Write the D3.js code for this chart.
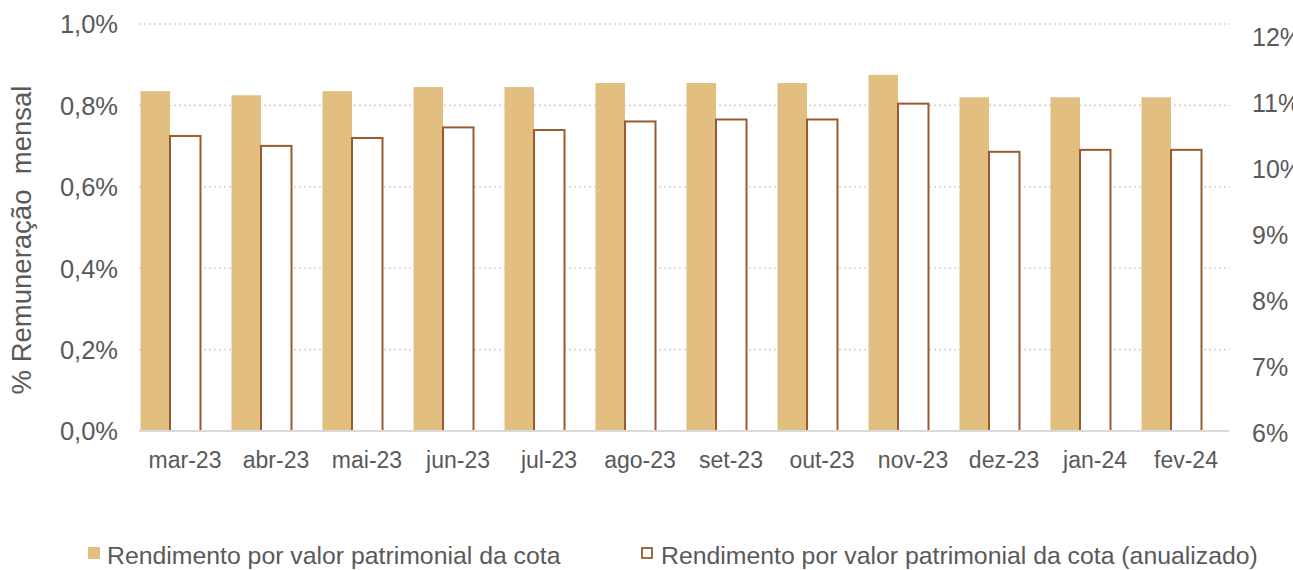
<!DOCTYPE html>
<html>
<head>
<meta charset="utf-8">
<script src="https://cdn.jsdelivr.net/npm/d3@7"></script>
<style>
  body { margin: 0; background: #fff; }
  text { font-family: "Liberation Sans", Arial, sans-serif; fill: #595959; }
</style>
</head>
<body>
<div id="chart"></div>
<script>
// data
var months = ["mar-23", "abr-23", "mai-23", "jun-23", "jul-23", "ago-23", "set-23", "out-23", "nov-23", "dez-23", "jan-24", "fev-24"];
var mensal = [0.835, 0.825, 0.835, 0.845, 0.845, 0.855, 0.855, 0.855, 0.875, 0.82, 0.82, 0.82];
var anualizado = [10.47, 10.32, 10.44, 10.60, 10.56, 10.69, 10.72, 10.72, 10.96, 10.23, 10.26, 10.26];
var leftTicks = [0, 0.2, 0.4, 0.6, 0.8, 1.0];
var rightTicks = [6, 7, 8, 9, 10, 11, 12];
var legendLabels = ["Rendimento por valor patrimonial da cota", "Rendimento por valor patrimonial da cota (anualizado)"];

var W = 1293, H = 570;
var fill = "#E2BE80", stroke = "#9A5A2E";

var svg = d3.select("#chart").append("svg")
    .attr("width", W)
    .attr("height", H);

var x = d3.scaleBand().domain(months).range([139.5, 1231.5]).padding(0),
    x1 = d3.scaleBand().domain(["m", "a"]).range([0, 61]),
    y = d3.scaleLinear().domain([0, 1.0]).range([431, 24]),
    y2 = d3.scaleLinear().domain([6, 12]).range([431, 35]);

// gridlines
svg.append("g").selectAll("line")
    .data(leftTicks.slice(1))
    .enter().append("line")
    .attr("x1", 139).attr("x2", 1230)
    .attr("y1", function(d) { return y(d); })
    .attr("y2", function(d) { return y(d); })
    .attr("stroke", "#D4D4D4")
    .attr("stroke-width", 1.6)
    .attr("stroke-dasharray", "2,3");

// filled bars (left axis)
svg.append("g").selectAll("rect")
    .data(mensal)
    .enter().append("rect")
    .attr("x", function(d, i) { return x(months[i]) + x1("m") + 1; })
    .attr("width", x1.bandwidth() - 1)
    .attr("y", function(d) { return y(d); })
    .attr("height", function(d) { return y(0) - y(d); })
    .attr("fill", fill);

// outlined bars (right axis)
svg.append("g").selectAll("rect")
    .data(anualizado)
    .enter().append("rect")
    .attr("x", function(d, i) { return x(months[i]) + x1("a"); })
    .attr("width", x1.bandwidth())
    .attr("y", function(d) { return y2(d); })
    .attr("height", function(d) { return y2(6) - y2(d); })
    .attr("fill", "#fff")
    .attr("stroke", stroke)
    .attr("stroke-width", 2);

// baseline
svg.append("line")
    .attr("x1", 139).attr("x2", 1229)
    .attr("y1", 431).attr("y2", 431)
    .attr("stroke", "#D9D9D9")
    .attr("stroke-width", 2);

// left axis
var fmt = d3.format(".1f");
var yAxis = svg.append("g")
    .attr("transform", "translate(118,0)")
    .call(d3.axisLeft(y).tickValues(leftTicks).tickSize(0).tickPadding(0)
        .tickFormat(function(d) { return fmt(d).replace(".", ",") + "%"; }));
yAxis.select(".domain").remove();
yAxis.selectAll("text").attr("font-size", 25.5).attr("dy", "0.35em")
    .style("font-family", "Liberation Sans, Arial, sans-serif").attr("fill", "#595959");

// right axis (cut off at the right edge, as in the reference)
var y2Axis = svg.append("g")
    .attr("transform", "translate(1252,0)")
    .call(d3.axisRight(y2).tickValues(rightTicks).tickSize(0).tickPadding(0)
        .tickFormat(function(d) { return d + "%"; }));
y2Axis.select(".domain").remove();
y2Axis.selectAll("text").attr("font-size", 25).attr("dy", "0.42em")
    .style("font-family", "Liberation Sans, Arial, sans-serif").attr("fill", "#595959");

// x axis
var xAxis = svg.append("g")
    .attr("transform", "translate(0,431)")
    .call(d3.axisBottom(x).tickSize(0).tickPadding(0));
xAxis.select(".domain").remove();
xAxis.selectAll("text").attr("font-size", 23).attr("y", 0).attr("dy", 37)
    .style("font-family", "Liberation Sans, Arial, sans-serif").attr("fill", "#595959");

// y axis title
svg.append("text")
    .attr("transform", "translate(31,240) rotate(-90)")
    .attr("text-anchor", "middle")
    .attr("font-size", 27.5)
    .attr("xml:space", "preserve")
    .text("% Remuneração  mensal");

// legend
var legend = svg.append("g");
legend.append("rect")
    .attr("x", 88).attr("y", 547).attr("width", 12).attr("height", 12)
    .attr("fill", fill);
legend.append("text")
    .attr("x", 107).attr("y", 564)
    .attr("font-size", 24.8)
    .text(legendLabels[0]);
legend.append("rect")
    .attr("x", 642).attr("y", 548).attr("width", 10).attr("height", 10)
    .attr("fill", "#fff").attr("stroke", stroke).attr("stroke-width", 1.8);
legend.append("text")
    .attr("x", 661).attr("y", 564)
    .attr("font-size", 24.8)
    .text(legendLabels[1]);
</script>
</body>
</html>
